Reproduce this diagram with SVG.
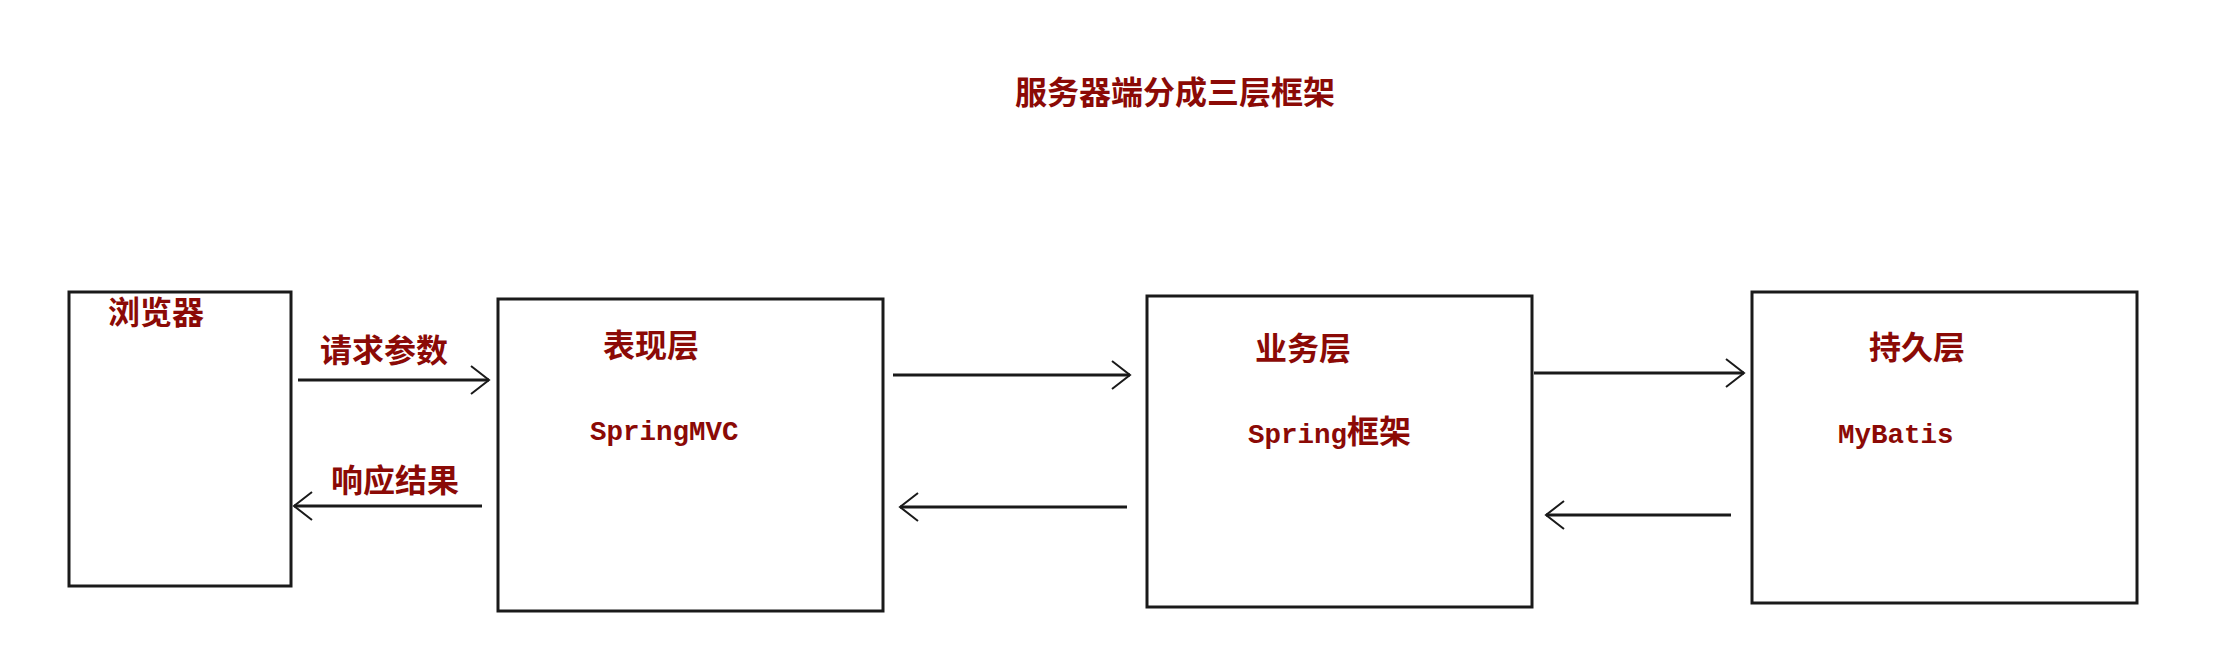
<svg xmlns="http://www.w3.org/2000/svg" width="2214" height="645" viewBox="0 0 2214 645">
<style>
.box{fill:#ffffff;stroke:#1a1a1a;stroke-width:3}
.cjk{font-family:"Noto Sans CJK SC","Noto Sans",sans-serif;font-size:32px;font-weight:700;fill:#8b0a06}
.mono{font-family:"Liberation Mono","DejaVu Sans Mono",monospace;font-size:27.5px;font-weight:700;fill:#8b0a06}
.line{stroke:#1a1a1a;stroke-width:3;fill:none}
.head{stroke:#1a1a1a;stroke-width:2;fill:none}
</style>
<defs>
<marker id="arr" markerUnits="userSpaceOnUse" viewBox="-22 -16 24 32" refX="0" refY="0" markerWidth="24" markerHeight="32" orient="auto" overflow="visible">
<path class="head" d="M -18 -14 L 0 0 L -18 14"/>
</marker>
</defs>
<rect width="2214" height="645" fill="#ffffff"/>
<text class="cjk" x="1015" y="104">服务器端分成三层框架</text>
<g id="browser">
<rect class="box" x="69" y="292" width="222" height="294"/>
<text class="cjk" x="108" y="324">浏览器</text>
</g>
<g id="presentation">
<rect class="box" x="498" y="299" width="385" height="312"/>
<text class="cjk" x="603" y="357">表现层</text>
<text class="mono" x="590" y="440">SpringMVC</text>
</g>
<g id="business">
<rect class="box" x="1147" y="296" width="385" height="311"/>
<text class="cjk" x="1255" y="360">业务层</text>
<text x="1248" y="443"><tspan class="mono">Spring</tspan><tspan class="cjk">框架</tspan></text>
</g>
<g id="persistence">
<rect class="box" x="1752" y="292" width="385" height="311"/>
<text class="cjk" x="1869" y="359">持久层</text>
<text class="mono" x="1838" y="443">MyBatis</text>
</g>
<g id="connectors">
<line class="line" x1="298" y1="380" x2="489" y2="380" marker-end="url(#arr)"/>
<text class="cjk" x="320" y="362">请求参数</text>
<line class="line" x1="482" y1="506" x2="294" y2="506" marker-end="url(#arr)"/>
<text class="cjk" x="331" y="492">响应结果</text>
<line class="line" x1="893" y1="375" x2="1130" y2="375" marker-end="url(#arr)"/>
<line class="line" x1="1127" y1="507" x2="900" y2="507" marker-end="url(#arr)"/>
<line class="line" x1="1534" y1="373" x2="1744" y2="373" marker-end="url(#arr)"/>
<line class="line" x1="1731" y1="515" x2="1546" y2="515" marker-end="url(#arr)"/>
</g>
</svg>
